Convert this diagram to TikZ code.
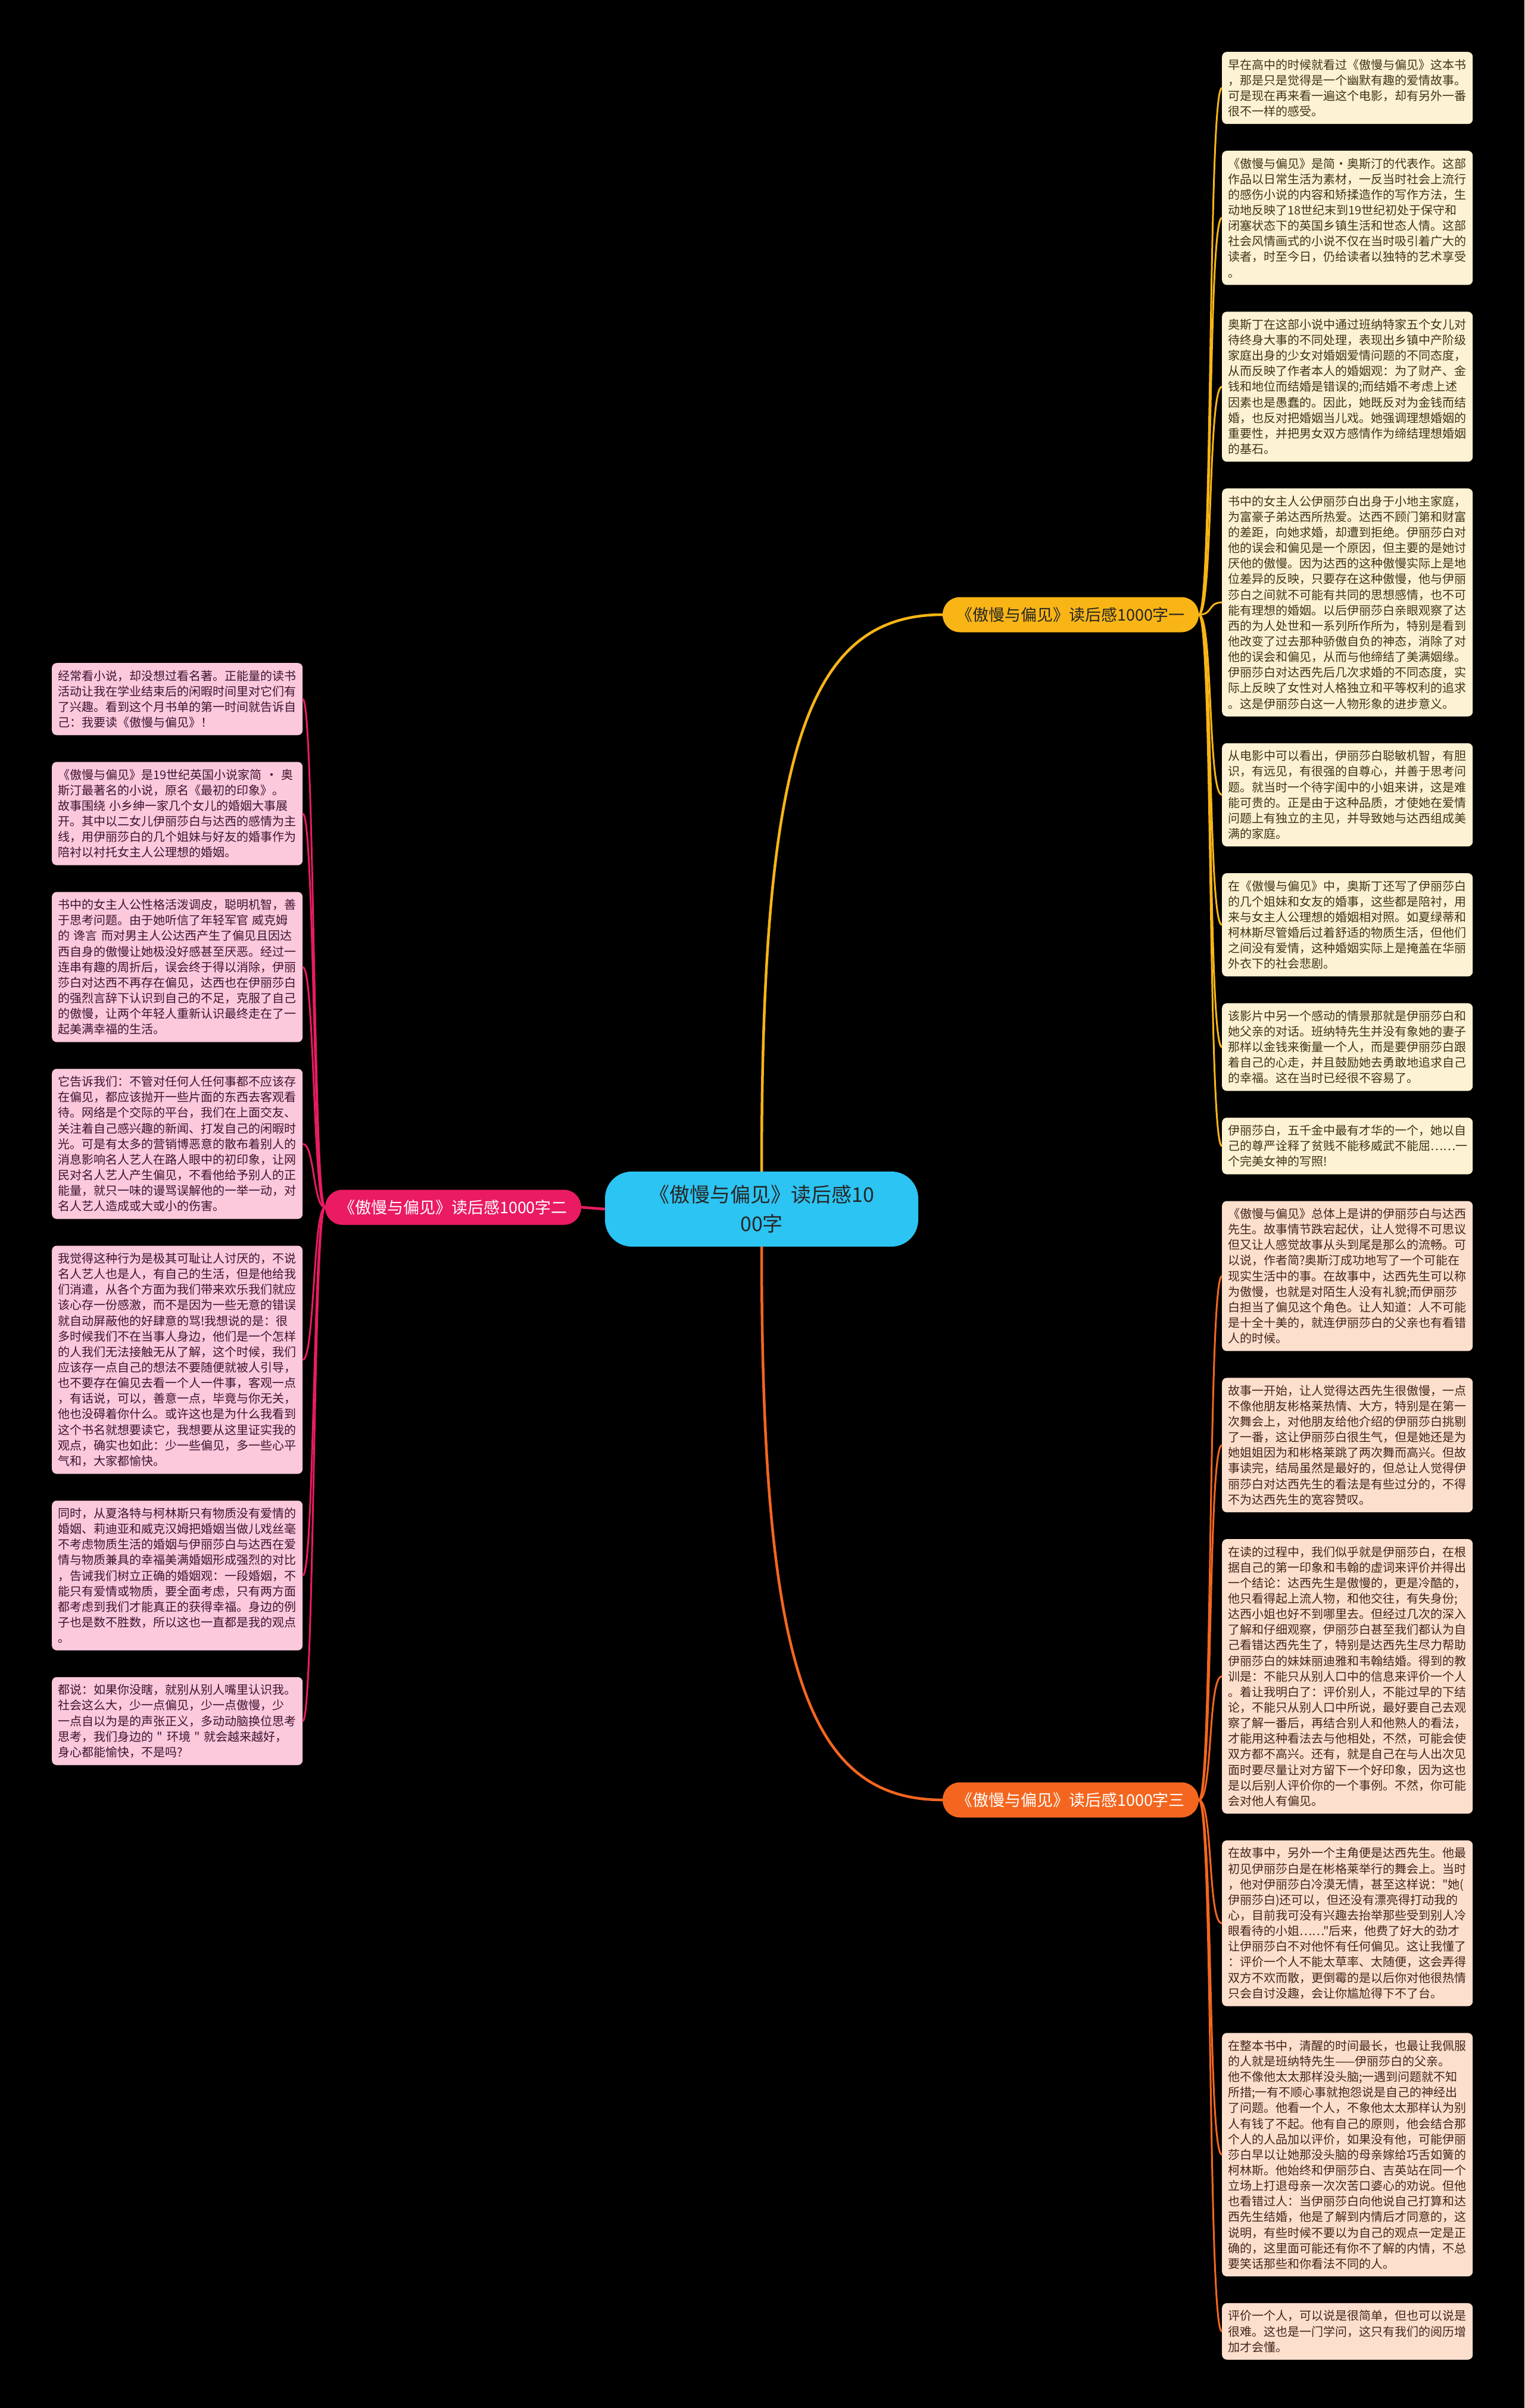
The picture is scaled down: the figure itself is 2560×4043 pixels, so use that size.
\documentclass[tikz,border=0pt]{standalone}
\usepackage{fontspec}
\newfontfamily\cjk{Noto Sans CJK SC}
\usepackage{tikz}
\usetikzlibrary{positioning}

\definecolor{rootfill}{HTML}{2CC4F2}
\definecolor{onefill}{HTML}{F8B515}
\definecolor{twofill}{HTML}{EA1B63}
\definecolor{threefill}{HTML}{F4661F}
\definecolor{creamfill}{HTML}{FDF2D3}
\definecolor{peachfill}{HTML}{FDDFCD}
\definecolor{pinkfill}{HTML}{FBC8DC}
\definecolor{creamtext}{HTML}{3F3416}
\definecolor{peachtext}{HTML}{45241A}
\definecolor{pinktext}{HTML}{3D1430}

\tikzset{
	leaf/.style={rounded corners=8pt, text width=401pt, inner xsep=10pt,
		inner ysep=12pt, align=left, font={\cjk\fontsize{20}{26.15}\selectfont}},
	leafone/.style={leaf, fill=creamfill, text=creamtext},
	leaftwo/.style={leaf, fill=pinkfill, text=pinktext},
	leafthree/.style={leaf, fill=peachfill, text=peachtext},
	branch/.style={rounded corners=29pt, minimum width=430pt, minimum height=59pt,
		inner sep=0pt, font={\cjk\fontsize{27}{31}\selectfont}},
	twig/.style={line width=3pt},
	limb/.style={line width=4.5pt}
}

\begin{document}
\begin{tikzpicture}[x=1pt, y=-1pt, node distance=44.6pt]
	\fill[black] (0,0) rectangle (2560,4043);
	\useasboundingbox (0,0) rectangle (2560,4043);

	\node[rounded corners=45pt, fill=rootfill, minimum width=526pt, minimum height=126pt,
		align=center, text=black!85, font={\cjk\fontsize{34}{49}\selectfont}]
		(root) at (1279,2030) {《傲慢与偏见》读后感10\\00字};

	\node[branch, fill=onefill, text=black!85] (br1) at (1798,1032) {《傲慢与偏见》读后感1000字一};
	\node[branch, fill=twofill, text=white] (br2) at (761,2027) {《傲慢与偏见》读后感1000字二};
	\node[branch, fill=threefill, text=white] (br3) at (1798,3022) {《傲慢与偏见》读后感1000字三};

	\node[leafone, anchor=north west] (r1) at (2052,87) {早在高中的时候就看过《傲慢与偏见》这本书\\，那是只是觉得是一个幽默有趣的爱情故事。\\可是现在再来看一遍这个电影，却有另外一番\\很不一样的感受。};
	\node[leafone, below=of r1] (r2) {《傲慢与偏见》是简·奥斯汀的代表作。这部\\作品以日常生活为素材，一反当时社会上流行\\的感伤小说的内容和矫揉造作的写作方法，生\\动地反映了18世纪末到19世纪初处于保守和\\闭塞状态下的英国乡镇生活和世态人情。这部\\社会风情画式的小说不仅在当时吸引着广大的\\读者，时至今日，仍给读者以独特的艺术享受\\。};
	\node[leafone, below=of r2] (r3) {奥斯丁在这部小说中通过班纳特家五个女儿对\\待终身大事的不同处理，表现出乡镇中产阶级\\家庭出身的少女对婚姻爱情问题的不同态度，\\从而反映了作者本人的婚姻观：为了财产、金\\钱和地位而结婚是错误的;而结婚不考虑上述\\因素也是愚蠢的。因此，她既反对为金钱而结\\婚，也反对把婚姻当儿戏。她强调理想婚姻的\\重要性，并把男女双方感情作为缔结理想婚姻\\的基石。};
	\node[leafone, below=of r3] (r4) {书中的女主人公伊丽莎白出身于小地主家庭，\\为富豪子弟达西所热爱。达西不顾门第和财富\\的差距，向她求婚，却遭到拒绝。伊丽莎白对\\他的误会和偏见是一个原因，但主要的是她讨\\厌他的傲慢。因为达西的这种傲慢实际上是地\\位差异的反映，只要存在这种傲慢，他与伊丽\\莎白之间就不可能有共同的思想感情，也不可\\能有理想的婚姻。以后伊丽莎白亲眼观察了达\\西的为人处世和一系列所作所为，特别是看到\\他改变了过去那种骄傲自负的神态，消除了对\\他的误会和偏见，从而与他缔结了美满姻缘。\\伊丽莎白对达西先后几次求婚的不同态度，实\\际上反映了女性对人格独立和平等权利的追求\\。这是伊丽莎白这一人物形象的进步意义。};
	\node[leafone, below=of r4] (r5) {从电影中可以看出，伊丽莎白聪敏机智，有胆\\识，有远见，有很强的自尊心，并善于思考问\\题。就当时一个待字闺中的小姐来讲，这是难\\能可贵的。正是由于这种品质，才使她在爱情\\问题上有独立的主见，并导致她与达西组成美\\满的家庭。};
	\node[leafone, below=of r5] (r6) {在《傲慢与偏见》中，奥斯丁还写了伊丽莎白\\的几个姐妹和女友的婚事，这些都是陪衬，用\\来与女主人公理想的婚姻相对照。如夏绿蒂和\\柯林斯尽管婚后过着舒适的物质生活，但他们\\之间没有爱情，这种婚姻实际上是掩盖在华丽\\外衣下的社会悲剧。};
	\node[leafone, below=of r6] (r7) {该影片中另一个感动的情景那就是伊丽莎白和\\她父亲的对话。班纳特先生并没有象她的妻子\\那样以金钱来衡量一个人，而是要伊丽莎白跟\\着自己的心走，并且鼓励她去勇敢地追求自己\\的幸福。这在当时已经很不容易了。};
	\node[leafone, below=of r7] (r8) {伊丽莎白，五千金中最有才华的一个，她以自\\己的尊严诠释了贫贱不能移威武不能屈……一\\个完美女神的写照!};

	\node[leafthree, below=of r8] (r9) {《傲慢与偏见》总体上是讲的伊丽莎白与达西\\先生。故事情节跌宕起伏，让人觉得不可思议\\但又让人感觉故事从头到尾是那么的流畅。可\\以说，作者简?奥斯汀成功地写了一个可能在\\现实生活中的事。在故事中，达西先生可以称\\为傲慢，也就是对陌生人没有礼貌;而伊丽莎\\白担当了偏见这个角色。让人知道：人不可能\\是十全十美的，就连伊丽莎白的父亲也有看错\\人的时候。};
	\node[leafthree, below=of r9] (r10) {故事一开始，让人觉得达西先生很傲慢，一点\\不像他朋友彬格莱热情、大方，特别是在第一\\次舞会上，对他朋友给他介绍的伊丽莎白挑剔\\了一番，这让伊丽莎白很生气，但是她还是为\\她姐姐因为和彬格莱跳了两次舞而高兴。但故\\事读完，结局虽然是最好的，但总让人觉得伊\\丽莎白对达西先生的看法是有些过分的，不得\\不为达西先生的宽容赞叹。};
	\node[leafthree, below=of r10] (r11) {在读的过程中，我们似乎就是伊丽莎白，在根\\据自己的第一印象和韦翰的虚词来评价并得出\\一个结论：达西先生是傲慢的，更是冷酷的，\\他只看得起上流人物，和他交往，有失身份;\\达西小姐也好不到哪里去。但经过几次的深入\\了解和仔细观察，伊丽莎白甚至我们都认为自\\己看错达西先生了，特别是达西先生尽力帮助\\伊丽莎白的妹妹丽迪雅和韦翰结婚。得到的教\\训是：不能只从别人口中的信息来评价一个人\\。着让我明白了：评价别人，不能过早的下结\\论，不能只从别人口中所说，最好要自己去观\\察了解一番后，再结合别人和他熟人的看法，\\才能用这种看法去与他相处，不然，可能会使\\双方都不高兴。还有，就是自己在与人出次见\\面时要尽量让对方留下一个好印象，因为这也\\是以后别人评价你的一个事例。不然，你可能\\会对他人有偏见。};
	\node[leafthree, below=of r11] (r12) {在故事中，另外一个主角便是达西先生。他最\\初见伊丽莎白是在彬格莱举行的舞会上。当时\\，他对伊丽莎白冷漠无情，甚至这样说："她(\\伊丽莎白)还可以，但还没有漂亮得打动我的\\心，目前我可没有兴趣去抬举那些受到别人冷\\眼看待的小姐……"后来，他费了好大的劲才\\让伊丽莎白不对他怀有任何偏见。这让我懂了\\：评价一个人不能太草率、太随便，这会弄得\\双方不欢而散，更倒霉的是以后你对他很热情\\只会自讨没趣，会让你尴尬得下不了台。};
	\node[leafthree, below=of r12] (r13) {在整本书中，清醒的时间最长，也最让我佩服\\的人就是班纳特先生——伊丽莎白的父亲。\\他不像他太太那样没头脑;一遇到问题就不知\\所措;一有不顺心事就抱怨说是自己的神经出\\了问题。他看一个人，不象他太太那样认为别\\人有钱了不起。他有自己的原则，他会结合那\\个人的人品加以评价，如果没有他，可能伊丽\\莎白早以让她那没头脑的母亲嫁给巧舌如簧的\\柯林斯。他始终和伊丽莎白、吉英站在同一个\\立场上打退母亲一次次苦口婆心的劝说。但他\\也看错过人：当伊丽莎白向他说自己打算和达\\西先生结婚，他是了解到内情后才同意的，这\\说明，有些时候不要以为自己的观点一定是正\\确的，这里面可能还有你不了解的内情，不总\\要笑话那些和你看法不同的人。};
	\node[leafthree, below=of r13] (r14) {评价一个人，可以说是很简单，但也可以说是\\很难。这也是一门学问，这只有我们的阅历增\\加才会懂。};

	\node[leaftwo, anchor=north west] (l1) at (87,1113) {经常看小说，却没想过看名著。正能量的读书\\活动让我在学业结束后的闲暇时间里对它们有\\了兴趣。看到这个月书单的第一时间就告诉自\\己：我要读《傲慢与偏见》！};
	\node[leaftwo, below=of l1] (l2) {《傲慢与偏见》是19世纪英国小说家简 · 奥\\斯汀最著名的小说，原名《最初的印象》。\\故事围绕 小乡绅一家几个女儿的婚姻大事展\\开。其中以二女儿伊丽莎白与达西的感情为主\\线，用伊丽莎白的几个姐妹与好友的婚事作为\\陪衬以衬托女主人公理想的婚姻。};
	\node[leaftwo, below=of l2] (l3) {书中的女主人公性格活泼调皮，聪明机智，善\\于思考问题。由于她听信了年轻军官 威克姆\\的 谗言 而对男主人公达西产生了偏见且因达\\西自身的傲慢让她极没好感甚至厌恶。经过一\\连串有趣的周折后，误会终于得以消除，伊丽\\莎白对达西不再存在偏见，达西也在伊丽莎白\\的强烈言辞下认识到自己的不足，克服了自己\\的傲慢，让两个年轻人重新认识最终走在了一\\起美满幸福的生活。};
	\node[leaftwo, below=of l3] (l4) {它告诉我们：不管对任何人任何事都不应该存\\在偏见，都应该抛开一些片面的东西去客观看\\待。网络是个交际的平台，我们在上面交友、\\关注着自己感兴趣的新闻、打发自己的闲暇时\\光。可是有太多的营销博恶意的散布着别人的\\消息影响名人艺人在路人眼中的初印象，让网\\民对名人艺人产生偏见，不看他给予别人的正\\能量，就只一味的谩骂误解他的一举一动，对\\名人艺人造成或大或小的伤害。};
	\node[leaftwo, below=of l4] (l5) {我觉得这种行为是极其可耻让人讨厌的，不说\\名人艺人也是人，有自己的生活，但是他给我\\们消遣，从各个方面为我们带来欢乐我们就应\\该心存一份感激，而不是因为一些无意的错误\\就自动屏蔽他的好肆意的骂!我想说的是：很\\多时候我们不在当事人身边，他们是一个怎样\\的人我们无法接触无从了解，这个时候，我们\\应该存一点自己的想法不要随便就被人引导，\\也不要存在偏见去看一个人一件事，客观一点\\，有话说，可以，善意一点，毕竟与你无关，\\他也没碍着你什么。或许这也是为什么我看到\\这个书名就想要读它，我想要从这里证实我的\\观点，确实也如此：少一些偏见，多一些心平\\气和，大家都愉快。};
	\node[leaftwo, below=of l5] (l6) {同时，从夏洛特与柯林斯只有物质没有爱情的\\婚姻、莉迪亚和威克汉姆把婚姻当做儿戏丝毫\\不考虑物质生活的婚姻与伊丽莎白与达西在爱\\情与物质兼具的幸福美满婚姻形成强烈的对比\\，告诫我们树立正确的婚姻观：一段婚姻，不\\能只有爱情或物质，要全面考虑，只有两方面\\都考虑到我们才能真正的获得幸福。身边的例\\子也是数不胜数，所以这也一直都是我的观点\\。};
	\node[leaftwo, below=of l6] (l7) {都说：如果你没瞎，就别从别人嘴里认识我。\\社会这么大，少一点偏见，少一点傲慢，少\\一点自以为是的声张正义，多动动脑换位思考\\思考，我们身边的 " 环境 " 就会越来越好，\\身心都能愉快，不是吗?};

	\draw[limb, onefill] (root.north) .. controls +(0,-700) and +(-230,0) .. (br1.west);
	\draw[limb, twofill] (root.west) -- (br2.east);
	\draw[limb, threefill] (root.south) .. controls +(0,700) and +(-230,0) .. (br3.west);

	\foreach \i in {1,...,8}
		\draw[twig, onefill] (br1.east) .. controls +(24,0) and +(-24,0) .. (r\i.west);
	\foreach \i in {9,...,14}
		\draw[twig, threefill] (br3.east) .. controls +(24,0) and +(-24,0) .. (r\i.west);
	\foreach \i in {1,...,7}
		\draw[twig, twofill] (br2.west) .. controls +(-20,0) and +(20,0) .. (l\i.east);
\end{tikzpicture}
\end{document}
